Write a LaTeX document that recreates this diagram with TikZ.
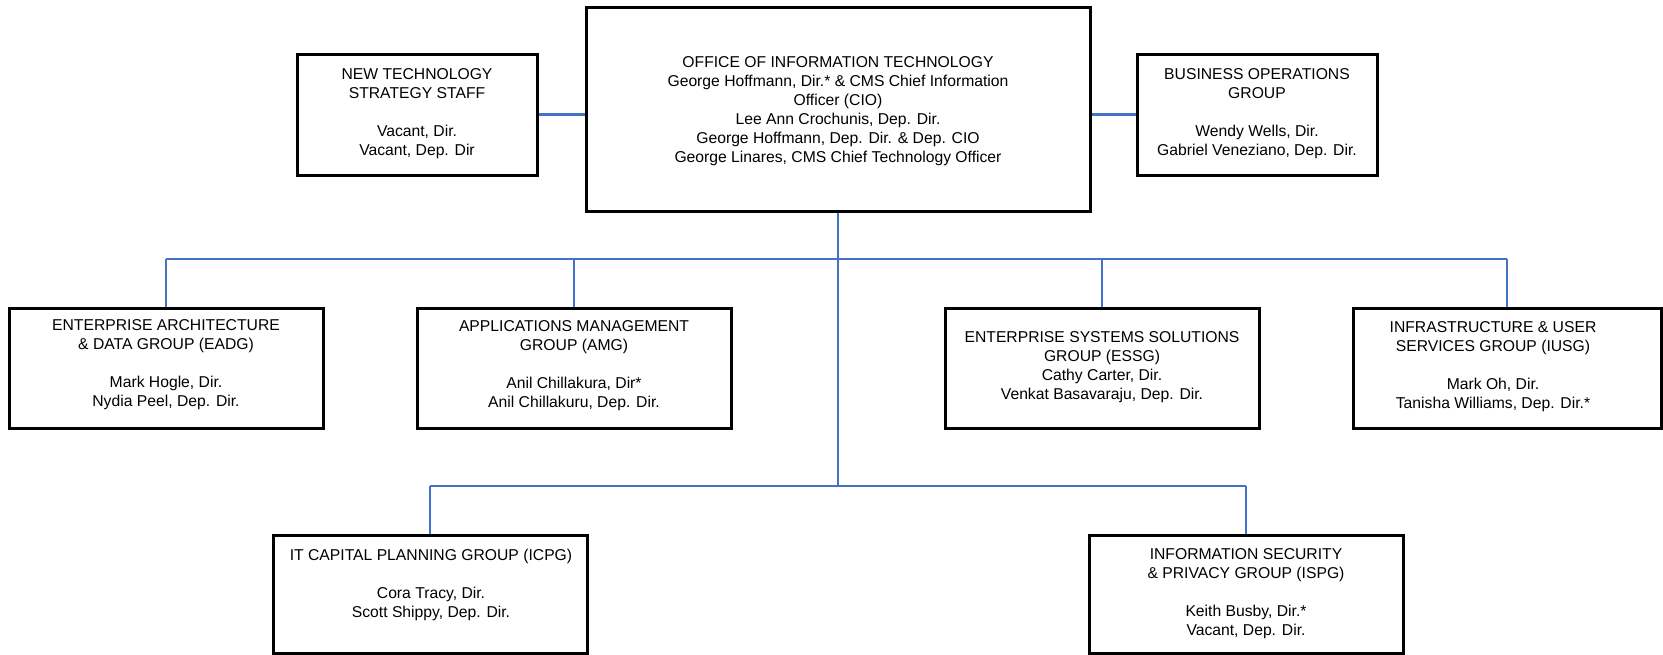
\documentclass[tikz,border=0pt]{standalone}
\usepackage{fontspec}
\setmainfont{Liberation Sans}
\definecolor{connblue}{HTML}{4472C4}
\begin{document}
\begin{tikzpicture}[x=1pt,y=-1pt,
  box/.style={draw=black, line width=3pt, inner sep=0pt, fill=white},
  conn/.style={draw=connblue, line width=2.8pt},
  txt/.style={align=center, font=\fontsize{15.7}{19}\selectfont, inner sep=0pt, text=black}]
\useasboundingbox (0,0) rectangle (1663,654);
% boxes
\node[box, minimum width=240pt, minimum height=121pt] (ntss) at (417,114.5) {};
\node[box, minimum width=504pt, minimum height=204pt] (oit) at (838,109) {};
\node[box, minimum width=240pt, minimum height=121pt] (bog) at (1257,114.5) {};
\node[box, minimum width=314pt, minimum height=120pt] (eadg) at (166,368) {};
\node[box, minimum width=314pt, minimum height=120pt] (amg) at (574,368) {};
\node[box, minimum width=314pt, minimum height=120pt] (essg) at (1102,368) {};
\node[box, minimum width=308pt, minimum height=120pt] (inf) at (1507,368) {};
\node[box, minimum width=314pt, minimum height=118pt] (icpg) at (430,594) {};
\node[box, minimum width=314pt, minimum height=118pt] (ispg) at (1246,594) {};
% texts
\node[txt] (ntsst) at (417,114) {NEW TECHNOLOGY\\STRATEGY STAFF\\[19pt]Vacant, Dir.\\Vacant, Dep. Dir};
\node[txt] (oitt) at (838,111) {OFFICE OF INFORMATION TECHNOLOGY\\George Hoffmann, Dir.* \& CMS Chief Information\\Officer (CIO)\\Lee Ann Crochunis, Dep. Dir.\\George Hoffmann, Dep. Dir. \& Dep. CIO\\George Linares, CMS Chief Technology Officer};
\node[txt] (bogt) at (1257,114) {BUSINESS OPERATIONS\\GROUP\\[19pt]Wendy Wells, Dir.\\Gabriel Veneziano, Dep. Dir.};
\node[txt] (eadgt) at (166,365) {ENTERPRISE ARCHITECTURE\\\& DATA GROUP (EADG)\\[19pt]Mark Hogle, Dir.\\Nydia Peel, Dep. Dir.};
\node[txt] (amgt) at (574,366) {APPLICATIONS MANAGEMENT\\GROUP (AMG)\\[19pt]Anil Chillakura, Dir*\\Anil Chillakuru, Dep. Dir.};
\node[txt] (essgt) at (1102,367) {ENTERPRISE SYSTEMS SOLUTIONS\\GROUP (ESSG)\\Cathy Carter, Dir.\\Venkat Basavaraju, Dep. Dir.};
\node[txt] (inft) at (1493,367) {INFRASTRUCTURE \& USER\\SERVICES GROUP (IUSG)\\[19pt]Mark Oh, Dir.\\Tanisha Williams, Dep. Dir.*};
\node[txt] (icpgt) at (431,584.5) {IT CAPITAL PLANNING GROUP (ICPG)\\[19pt]Cora Tracy, Dir.\\Scott Shippy, Dep. Dir.};
\node[txt] (ispgt) at (1246,594) {INFORMATION SECURITY\\\& PRIVACY GROUP (ISPG)\\[19pt]Keith Busby, Dir.*\\Vacant, Dep. Dir.};
% connectors
\coordinate (bus) at (838,259);
\coordinate (lbus) at (838,486);
\draw[conn] (ntss.east) -- (ntss.east -| oit.west);
\draw[conn] (bog.west -| oit.east) -- (bog.west);
\draw[conn] (oit.south) -- (lbus);
\draw[conn] (eadg.north |- bus) -- (inf.north |- bus);
\foreach \n in {eadg,amg,essg,inf} \draw[conn] (\n.north |- bus) -- (\n.north);
\draw[conn] (icpg.north |- lbus) -- (ispg.north |- lbus);
\foreach \n in {icpg,ispg} \draw[conn] (\n.north |- lbus) -- (\n.north);
\end{tikzpicture}
\end{document}
